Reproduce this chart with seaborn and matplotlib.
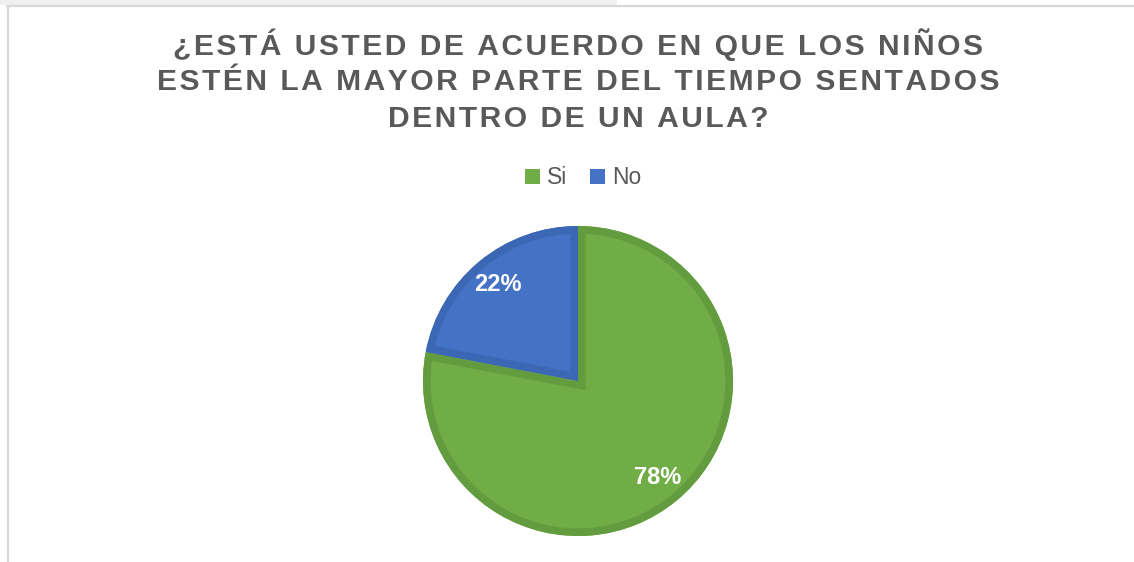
import matplotlib
matplotlib.use("Agg")
import matplotlib.pyplot as plt
import matplotlib.patches as mpatches
import seaborn as sns

# Data
categorias = ["Si", "No"]
valores = [78, 22]
colores = ["#70AD47", "#4472C4"]
bordes = ["#629C3E", "#3B67B5"]
lineas_titulo = ["¿ESTÁ USTED DE ACUERDO EN QUE LOS NIÑOS",
                 "ESTÉN LA MAYOR PARTE DEL TIEMPO SENTADOS",
                 "DENTRO DE UN AULA?"]

sns.set_theme(style="white")
plt.rcParams["font.family"] = ["Liberation Sans", "DejaVu Sans"]

W, H = 1134, 562
fig = plt.figure(figsize=(W / 100, H / 100), dpi=100)
fig.patch.set_facecolor("white")

# frame of the screenshot
fig.patches.append(mpatches.Rectangle((0, 1 - 5 / H), 617 / W, 5 / H, transform=fig.transFigure,
                                      facecolor="#f0f0f0", edgecolor="none", zorder=0))
fig.add_artist(plt.Line2D([7 / W, 1], [1 - 6 / H, 1 - 6 / H], color="#d9d9d9", lw=1.6))
fig.add_artist(plt.Line2D([7.5 / W, 7.5 / W], [0, 1 - 6 / H], color="#d9d9d9", lw=1.6))

# Pie
cx, cy, r = 578, 381, 155
ax = fig.add_axes([(cx - r) / W, (H - cy - r) / H, 2 * r / W, 2 * r / H])
wedges, texts, autotexts = ax.pie(valores, colors=colores, startangle=90, counterclock=False,
                                  autopct="%1.0f%%", pctdistance=0.81, radius=1,
                                  wedgeprops=dict(linewidth=0))
for w, b in zip(wedges, bordes):
    # inner border: edge drawn twice as thick, clipped to the wedge itself
    borde = mpatches.Wedge(w.center, w.r, w.theta1, w.theta2, facecolor="none",
                           edgecolor=b, linewidth=11)
    ax.add_patch(borde)
    borde.set_clip_path(w)
for t in autotexts:
    t.set_color("white")
    t.set_fontsize(17)
    t.set_fontweight("bold")
ax.set_xlim(-1, 1)
ax.set_ylim(-1, 1)
ax.set_aspect("equal")
ax.axis("off")

# Title (letter spaced with hair spaces)
for i, linea in enumerate(lineas_titulo):
    espaciada = "\u200a".join(linea)
    fig.text(cx / W, 1 - (45 + 37 * i) / H, espaciada, ha="center", va="center", fontsize=21.6,
             fontweight="bold", color="#595959")

# Legend
handles = [mpatches.Patch(facecolor=c, edgecolor="none", label=l) for c, l in zip(colores, categorias)]
fig.legend(handles=handles, loc="center", bbox_to_anchor=(583 / W, 1 - 178 / H), ncol=2,
           frameon=False, fontsize=16.5, handlelength=0.65, handleheight=0.65, handletextpad=0.3,
           columnspacing=1.0, labelcolor="#595959")

fig.savefig("out.png", dpi=100, facecolor="white")
